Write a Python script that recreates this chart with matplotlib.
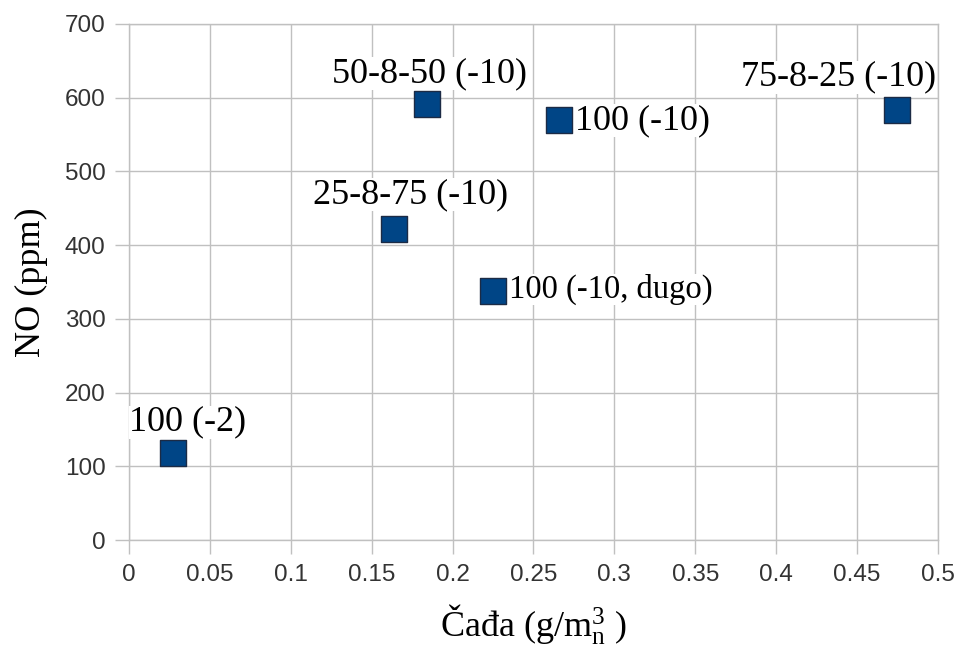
import matplotlib
matplotlib.use('Agg')
import matplotlib.pyplot as plt

## Data
soot = [0.027, 0.164, 0.184, 0.225, 0.266, 0.475]
no_ppm = [118, 422, 591, 338, 570, 583]
labels = ['100 (-2)', '25-8-75 (-10)', '50-8-50 (-10)',
          '100 (-10, dugo)', '100 (-10)', '75-8-25 (-10)']
x_ticks = [0, 0.05, 0.1, 0.15, 0.2, 0.25, 0.3, 0.35, 0.4, 0.45, 0.5]
x_tick_labels = ['0', '0.05', '0.1', '0.15', '0.2', '0.25', '0.3', '0.35', '0.4', '0.45', '0.5']
y_ticks = [0, 100, 200, 300, 400, 500, 600, 700]

## Label placement: (dx, dy in pixels, ha, size)
label_style = [(15, 31, 'center', 26),
               (16, 34, 'center', 26),
               (3, 31, 'center', 26),
               (16, 1, 'left', 23.5),
               (16, -1, 'left', 26),
               (-59, 33, 'center', 26)]

plt.rcParams['mathtext.fontset'] = 'custom'
plt.rcParams['mathtext.rm'] = 'Liberation Serif'
plt.rcParams['mathtext.it'] = 'Liberation Serif:italic'

grid_col = '#c0c0c0'
fig = plt.figure(figsize=(9.57, 6.5), dpi=100)
ax = fig.add_axes([0.1348, 0.1692, 0.8452, 0.7939])

ax.scatter(soot, no_ppm, marker='s', s=330, color='#004586',
           edgecolors='#1c2b45', linewidths=1, zorder=3)

for x, y, text, (dx, dy, ha, fs) in zip(soot, no_ppm, labels, label_style):
    ax.annotate(text, (x, y), xytext=(dx, dy), textcoords='offset pixels',
                ha=ha, va='center', fontsize=fs, family='Liberation Serif',
                color='black', zorder=4,
                bbox=dict(facecolor='white', edgecolor='none', pad=0))

ax.set_xlim(0, 0.5)
ax.set_ylim(0, 700)
ax.set_xticks(x_ticks)
ax.set_xticklabels(x_tick_labels)
ax.set_yticks(y_ticks)
ax.grid(True, color=grid_col, linewidth=1)
ax.set_axisbelow(True)
for sp in ax.spines.values():
    sp.set_color(grid_col)
    sp.set_linewidth(1)
ax.tick_params(direction='out', length=10, width=1, color=grid_col,
               labelsize=17.5, labelcolor='#333333', pad=7)
for lab in ax.get_xticklabels() + ax.get_yticklabels():
    lab.set_family('Liberation Sans')

ax.set_xlabel(r'Čađa (g/m$^{\mathrm{3}}_{\mathrm{n}}$ )', family='Liberation Serif',
              fontsize=26, labelpad=12)
ax.set_ylabel('NO (ppm)', family='Liberation Serif', fontsize=26, labelpad=12)

fig.savefig('out.png', dpi=100)
